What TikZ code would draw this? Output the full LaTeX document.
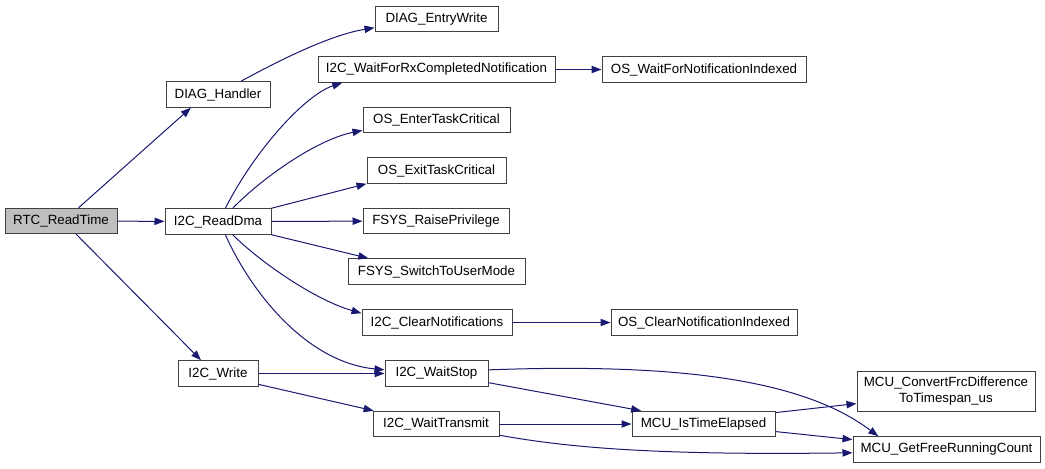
\documentclass[tikz,border=0pt]{standalone}
\usepackage{fontspec}
\setmainfont{Liberation Sans}
\usetikzlibrary{arrows.meta}
\definecolor{edgeblue}{RGB}{25,25,112}
\definecolor{rootgray}{RGB}{191,191,191}

\begin{document}
\begin{tikzpicture}[x=0.75pt,y=-0.75pt,
    fn/.style={draw=black!75,line width=0.75pt,inner sep=0pt,minimum height=25.5*0.75pt,font=\fontsize{10}{11.5}\selectfont},
    wd/.style={minimum width=#1*0.75pt},
    call/.style={edgeblue,line width=0.75pt,-{Triangle[length=7.5pt,width=5.5pt]}}]
    \useasboundingbox (0,0) rectangle (1045,468);

    % functions
    \node[fn,wd=112,fill=rootgray] (rtc) at (61,221) {RTC\_ReadTime};
    \node[fn,wd=104] (dh) at (218,94.5) {DIAG\_Handler};
    \node[fn,wd=106] (rd) at (218,221.5) {I2C\_ReadDma};
    \node[fn,wd=80] (wr) at (218,373.5) {I2C\_Write};

    \node[fn,wd=123] (dew) at (436.5,19) {DIAG\_EntryWrite};
    \node[fn,wd=237] (wfr) at (436.5,69.5) {I2C\_WaitForRxCompletedNotification};
    \node[fn,wd=147] (etc) at (436.5,120) {OS\_EnterTaskCritical};
    \node[fn,wd=139] (xtc) at (436.5,170.5) {OS\_ExitTaskCritical};
    \node[fn,wd=146] (frp) at (436,221) {FSYS\_RaisePrivilege};
    \node[fn,wd=177] (fsu) at (436.5,271.5) {FSYS\_SwitchToUserMode};
    \node[fn,wd=150] (cn) at (437,322.5) {I2C\_ClearNotifications};
    \node[fn,wd=103] (ws) at (436.5,373.5) {I2C\_WaitStop};
    \node[fn,wd=126] (wt) at (436,424) {I2C\_WaitTransmit};

    \node[fn,wd=204] (wfn) at (704,69.5) {OS\_WaitForNotificationIndexed};
    \node[fn,wd=186] (ocn) at (704,322.5) {OS\_ClearNotificationIndexed};
    \node[fn,wd=143] (ite) at (703.5,424) {MCU\_IsTimeElapsed};

    \node[fn,wd=178,minimum height=40*0.75pt,align=center] (cfd) at (946,391) {MCU\_ConvertFrcDifference\\ToTimespan\_us};
    \node[fn,wd=187] (gfr) at (946.5,449.5) {MCU\_GetFreeRunningCount};

    % calls
    \draw[call] (rtc.37) -- (dh.206);
    \draw[call] (rtc) -- (rd);
    \draw[call] (rtc.319) -- (wr.142);

    \draw[call] (dh.30) .. controls (280,60) and (330,35) .. (dew.188);

    \draw[call] (rd.61) .. controls (255,150) and (305,95) .. (wfr.188);
    \draw[call] (rd.42) .. controls (260,180) and (315,140) .. (etc.188);
    \draw[call] (rd.north east) -- (xtc.south west);
    \draw[call] (rd) -- (frp);
    \draw[call] (rd.south east) -- (fsu.169);
    \draw[call] (rd.318) .. controls (260,262) and (315,300) .. (cn.173);
    \draw[call] (rd.299) .. controls (250,290) and (305,362) .. (ws.176);

    \draw[call] (wr) -- (ws);
    \draw[call] (wr.345) -- (wt.168);

    \draw[call] (wfr) -- (wfn);
    \draw[call] (cn) -- (ocn);

    \draw[call] (ws.350) -- (ite.168);
    \draw[call] (ws.4) .. controls (700,362) and (810,385) .. (gfr.169);
    \draw[call] (wt) -- (ite);
    \draw[call] (wt.350) .. controls (580,450) and (680,455) .. (gfr.182);

    \draw[call] (ite.9) -- (cfd.188);
    \draw[call] (ite.354) -- (gfr.174);
\end{tikzpicture}
\end{document}
